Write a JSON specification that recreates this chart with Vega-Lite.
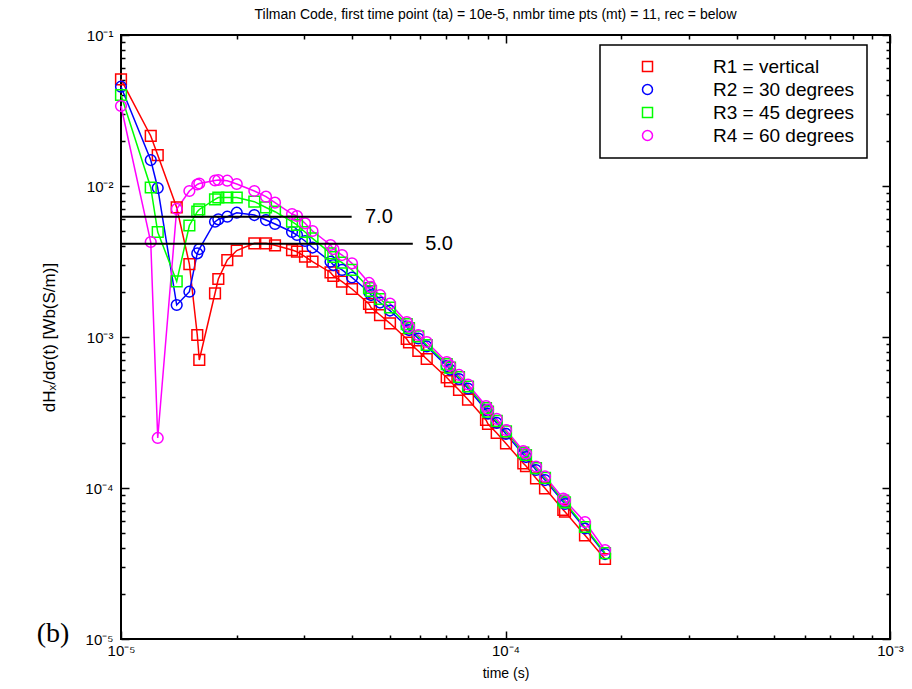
{
"$schema": "https://vega.github.io/schema/vega-lite/v6.json",
"width": 769, "height": 604,
"autosize": "none",
"padding": {"left": 121, "top": 35, "right": 22, "bottom": 50},
"background": "white",
"title": {"text": "Tilman Code, first time point (ta) = 10e-5, nmbr time pts (mt) = 11, rec = below", "fontSize": 14, "font": "Liberation Sans", "fontWeight": "normal", "color": "black", "anchor": "middle", "offset": 6, "dx": -10},
"config": {
  "view": {"stroke": "black", "strokeWidth": 2},
  "font": "Liberation Sans",
  "axis": {"labelFont": "Liberation Sans", "labelFontSize": 15, "labelColor": "black", "titleFont": "Liberation Sans", "titleFontWeight": "normal", "titleColor": "black", "tickColor": "black", "tickWidth": 1.5, "grid": false, "domain": false, "labelFlush": false, "labelOverlap": false},
  "legend": {"padding": 12, "strokeColor": "black", "strokeWidth": 1.5, "fillColor": "white", "symbolOffset": 26, "labelOffset": 56, "labelFontSize": 19, "labelFont": "Liberation Sans", "labelColor": "black", "symbolSize": 100, "symbolStrokeWidth": 1.5, "rowPadding": 3}
},
"data": {"values": [
{"s":"R1 = vertical","t":1e-5,"v":0.05087},{"s":"R1 = vertical","t":1.195e-5,"v":0.02144},{"s":"R1 = vertical","t":1.246e-5,"v":0.01604},{"s":"R1 = vertical","t":1.396e-5,"v":0.007208},{"s":"R1 = vertical","t":1.506e-5,"v":0.003043},{"s":"R1 = vertical","t":1.579e-5,"v":0.001031},{"s":"R1 = vertical","t":1.598e-5,"v":0.0007045},{"s":"R1 = vertical","t":1.756e-5,"v":0.001948},{"s":"R1 = vertical","t":1.791e-5,"v":0.002422},{"s":"R1 = vertical","t":1.89e-5,"v":0.003234},{"s":"R1 = vertical","t":2e-5,"v":0.003739},{"s":"R1 = vertical","t":2.222e-5,"v":0.004174},{"s":"R1 = vertical","t":2.383e-5,"v":0.004174},{"s":"R1 = vertical","t":2.515e-5,"v":0.004048},{"s":"R1 = vertical","t":2.785e-5,"v":0.003767},{"s":"R1 = vertical","t":2.869e-5,"v":0.003671},{"s":"R1 = vertical","t":3.01e-5,"v":0.003401},{"s":"R1 = vertical","t":3.148e-5,"v":0.003152},{"s":"R1 = vertical","t":3.507e-5,"v":0.002675},{"s":"R1 = vertical","t":3.567e-5,"v":0.002536},{"s":"R1 = vertical","t":3.757e-5,"v":0.002325},{"s":"R1 = vertical","t":3.988e-5,"v":0.002079},{"s":"R1 = vertical","t":4.416e-5,"v":0.001654},{"s":"R1 = vertical","t":4.469e-5,"v":0.001568},{"s":"R1 = vertical","t":4.717e-5,"v":0.001398},{"s":"R1 = vertical","t":5.007e-5,"v":0.001232},{"s":"R1 = vertical","t":5.535e-5,"v":0.00097},{"s":"R1 = vertical","t":5.611e-5,"v":0.0009196},{"s":"R1 = vertical","t":5.933e-5,"v":0.0008079},{"s":"R1 = vertical","t":6.239e-5,"v":0.000715},{"s":"R1 = vertical","t":7.032e-5,"v":0.0005393},{"s":"R1 = vertical","t":7.173e-5,"v":0.0005111},{"s":"R1 = vertical","t":7.57e-5,"v":0.0004456},{"s":"R1 = vertical","t":7.989e-5,"v":0.0003854},{"s":"R1 = vertical","t":8.898e-5,"v":0.0002822},{"s":"R1 = vertical","t":9.006e-5,"v":0.0002655},{"s":"R1 = vertical","t":9.487e-5,"v":0.0002314},{"s":"R1 = vertical","t":1.003e-4,"v":0.0001971},{"s":"R1 = vertical","t":1.1125e-4,"v":0.0001458},{"s":"R1 = vertical","t":1.1307e-4,"v":0.0001398},{"s":"R1 = vertical","t":1.2004e-4,"v":0.000116},{"s":"R1 = vertical","t":1.2669e-4,"v":0.00009954},{"s":"R1 = vertical","t":1.4135e-4,"v":0.0000715},{"s":"R1 = vertical","t":1.4279e-4,"v":0.0000697},{"s":"R1 = vertical","t":1.6096e-4,"v":0.0000486},{"s":"R1 = vertical","t":1.8149e-4,"v":0.00003387},
{"s":"R2 = 30 degrees","t":1e-5,"v":0.04546},{"s":"R2 = 30 degrees","t":1.195e-5,"v":0.01486},{"s":"R2 = 30 degrees","t":1.246e-5,"v":0.0097},{"s":"R2 = 30 degrees","t":1.396e-5,"v":0.001629},{"s":"R2 = 30 degrees","t":1.506e-5,"v":0.001995},{"s":"R2 = 30 degrees","t":1.579e-5,"v":0.003582},{"s":"R2 = 30 degrees","t":1.598e-5,"v":0.003825},{"s":"R2 = 30 degrees","t":1.756e-5,"v":0.005801},{"s":"R2 = 30 degrees","t":1.791e-5,"v":0.006017},{"s":"R2 = 30 degrees","t":1.89e-5,"v":0.00626},{"s":"R2 = 30 degrees","t":2e-5,"v":0.006654},{"s":"R2 = 30 degrees","t":2.222e-5,"v":0.006425},{"s":"R2 = 30 degrees","t":2.383e-5,"v":0.005953},{"s":"R2 = 30 degrees","t":2.515e-5,"v":0.005604},{"s":"R2 = 30 degrees","t":2.785e-5,"v":0.004959},{"s":"R2 = 30 degrees","t":2.869e-5,"v":0.004737},{"s":"R2 = 30 degrees","t":3.01e-5,"v":0.004323},{"s":"R2 = 30 degrees","t":3.148e-5,"v":0.003914},{"s":"R2 = 30 degrees","t":3.507e-5,"v":0.003152},{"s":"R2 = 30 degrees","t":3.567e-5,"v":0.002997},{"s":"R2 = 30 degrees","t":3.757e-5,"v":0.002779},{"s":"R2 = 30 degrees","t":3.988e-5,"v":0.002478},{"s":"R2 = 30 degrees","t":4.416e-5,"v":0.001986},{"s":"R2 = 30 degrees","t":4.469e-5,"v":0.001897},{"s":"R2 = 30 degrees","t":4.717e-5,"v":0.001692},{"s":"R2 = 30 degrees","t":5.007e-5,"v":0.001497},{"s":"R2 = 30 degrees","t":5.535e-5,"v":0.001173},{"s":"R2 = 30 degrees","t":5.611e-5,"v":0.001112},{"s":"R2 = 30 degrees","t":5.933e-5,"v":0.0009774},{"s":"R2 = 30 degrees","t":6.239e-5,"v":0.0008653},{"s":"R2 = 30 degrees","t":7.032e-5,"v":0.0006425},{"s":"R2 = 30 degrees","t":7.173e-5,"v":0.0006091},{"s":"R2 = 30 degrees","t":7.57e-5,"v":0.0005271},{"s":"R2 = 30 degrees","t":7.989e-5,"v":0.000456},{"s":"R2 = 30 degrees","t":8.898e-5,"v":0.0003284},{"s":"R2 = 30 degrees","t":9.006e-5,"v":0.0003113},{"s":"R2 = 30 degrees","t":9.487e-5,"v":0.0002695},{"s":"R2 = 30 degrees","t":1.003e-4,"v":0.0002279},{"s":"R2 = 30 degrees","t":1.1125e-4,"v":0.0001666},{"s":"R2 = 30 degrees","t":1.1307e-4,"v":0.0001604},{"s":"R2 = 30 degrees","t":1.2004e-4,"v":0.0001316},{"s":"R2 = 30 degrees","t":1.2669e-4,"v":0.0001129},{"s":"R2 = 30 degrees","t":1.4135e-4,"v":0.00008079},{"s":"R2 = 30 degrees","t":1.4279e-4,"v":0.00007836},{"s":"R2 = 30 degrees","t":1.6096e-4,"v":0.00005393},{"s":"R2 = 30 degrees","t":1.8149e-4,"v":0.00003654},
{"s":"R3 = 45 degrees","t":1e-5,"v":0.04006},{"s":"R3 = 45 degrees","t":1.195e-5,"v":0.009774},{"s":"R3 = 45 degrees","t":1.246e-5,"v":0.004959},{"s":"R3 = 45 degrees","t":1.396e-5,"v":0.002332},{"s":"R3 = 45 degrees","t":1.506e-5,"v":0.005476},{"s":"R3 = 45 degrees","t":1.579e-5,"v":0.006756},{"s":"R3 = 45 degrees","t":1.598e-5,"v":0.006991},{"s":"R3 = 45 degrees","t":1.756e-5,"v":0.008166},{"s":"R3 = 45 degrees","t":1.791e-5,"v":0.008393},{"s":"R3 = 45 degrees","t":1.89e-5,"v":0.008393},{"s":"R3 = 45 degrees","t":2e-5,"v":0.008393},{"s":"R3 = 45 degrees","t":2.222e-5,"v":0.007872},{"s":"R3 = 45 degrees","t":2.383e-5,"v":0.007208},{"s":"R3 = 45 degrees","t":2.515e-5,"v":0.006756},{"s":"R3 = 45 degrees","t":2.785e-5,"v":0.005801},{"s":"R3 = 45 degrees","t":2.869e-5,"v":0.005518},{"s":"R3 = 45 degrees","t":3.01e-5,"v":0.004959},{"s":"R3 = 45 degrees","t":3.148e-5,"v":0.004504},{"s":"R3 = 45 degrees","t":3.507e-5,"v":0.003582},{"s":"R3 = 45 degrees","t":3.567e-5,"v":0.003387},{"s":"R3 = 45 degrees","t":3.757e-5,"v":0.003113},{"s":"R3 = 45 degrees","t":3.988e-5,"v":0.002779},{"s":"R3 = 45 degrees","t":4.416e-5,"v":0.002111},{"s":"R3 = 45 degrees","t":4.469e-5,"v":0.002017},{"s":"R3 = 45 degrees","t":4.717e-5,"v":0.001785},{"s":"R3 = 45 degrees","t":5.007e-5,"v":0.001568},{"s":"R3 = 45 degrees","t":5.535e-5,"v":0.001219},{"s":"R3 = 45 degrees","t":5.611e-5,"v":0.001147},{"s":"R3 = 45 degrees","t":5.933e-5,"v":0.001008},{"s":"R3 = 45 degrees","t":6.239e-5,"v":0.0008853},{"s":"R3 = 45 degrees","t":7.032e-5,"v":0.0006623},{"s":"R3 = 45 degrees","t":7.173e-5,"v":0.0006279},{"s":"R3 = 45 degrees","t":7.57e-5,"v":0.0005434},{"s":"R3 = 45 degrees","t":7.989e-5,"v":0.0004701},{"s":"R3 = 45 degrees","t":8.898e-5,"v":0.0003387},{"s":"R3 = 45 degrees","t":9.006e-5,"v":0.000321},{"s":"R3 = 45 degrees","t":9.487e-5,"v":0.0002779},{"s":"R3 = 45 degrees","t":1.003e-4,"v":0.0002368},{"s":"R3 = 45 degrees","t":1.1125e-4,"v":0.0001718},{"s":"R3 = 45 degrees","t":1.1307e-4,"v":0.0001654},{"s":"R3 = 45 degrees","t":1.2004e-4,"v":0.0001356},{"s":"R3 = 45 degrees","t":1.2669e-4,"v":0.0001165},{"s":"R3 = 45 degrees","t":1.4135e-4,"v":0.00008266},{"s":"R3 = 45 degrees","t":1.4279e-4,"v":0.00008018},{"s":"R3 = 45 degrees","t":1.6096e-4,"v":0.00005518},{"s":"R3 = 45 degrees","t":1.8149e-4,"v":0.0000371},
{"s":"R4 = 60 degrees","t":1e-5,"v":0.03387},{"s":"R4 = 60 degrees","t":1.195e-5,"v":0.004257},{"s":"R4 = 60 degrees","t":1.246e-5,"v":0.0002144},{"s":"R4 = 60 degrees","t":1.396e-5,"v":0.007045},{"s":"R4 = 60 degrees","t":1.506e-5,"v":0.009266},{"s":"R4 = 60 degrees","t":1.579e-5,"v":0.010231},{"s":"R4 = 60 degrees","t":1.598e-5,"v":0.010389},{"s":"R4 = 60 degrees","t":1.756e-5,"v":0.010875},{"s":"R4 = 60 degrees","t":1.791e-5,"v":0.010958},{"s":"R4 = 60 degrees","t":1.89e-5,"v":0.010842},{"s":"R4 = 60 degrees","t":2e-5,"v":0.01031},{"s":"R4 = 60 degrees","t":2.222e-5,"v":0.009266},{"s":"R4 = 60 degrees","t":2.383e-5,"v":0.008496},{"s":"R4 = 60 degrees","t":2.515e-5,"v":0.007753},{"s":"R4 = 60 degrees","t":2.785e-5,"v":0.006524},{"s":"R4 = 60 degrees","t":2.869e-5,"v":0.006328},{"s":"R4 = 60 degrees","t":3.01e-5,"v":0.005664},{"s":"R4 = 60 degrees","t":3.148e-5,"v":0.005035},{"s":"R4 = 60 degrees","t":3.507e-5,"v":0.004067},{"s":"R4 = 60 degrees","t":3.567e-5,"v":0.003825},{"s":"R4 = 60 degrees","t":3.757e-5,"v":0.00349},{"s":"R4 = 60 degrees","t":3.988e-5,"v":0.003076},{"s":"R4 = 60 degrees","t":4.416e-5,"v":0.002279},{"s":"R4 = 60 degrees","t":4.469e-5,"v":0.002144},{"s":"R4 = 60 degrees","t":4.717e-5,"v":0.001897},{"s":"R4 = 60 degrees","t":5.007e-5,"v":0.001666},{"s":"R4 = 60 degrees","t":5.535e-5,"v":0.001257},{"s":"R4 = 60 degrees","t":5.611e-5,"v":0.001173},{"s":"R4 = 60 degrees","t":5.933e-5,"v":0.001031},{"s":"R4 = 60 degrees","t":6.239e-5,"v":0.0009266},{"s":"R4 = 60 degrees","t":7.032e-5,"v":0.0006829},{"s":"R4 = 60 degrees","t":7.173e-5,"v":0.0006474},{"s":"R4 = 60 degrees","t":7.57e-5,"v":0.0005604},{"s":"R4 = 60 degrees","t":7.989e-5,"v":0.0004846},{"s":"R4 = 60 degrees","t":8.898e-5,"v":0.000349},{"s":"R4 = 60 degrees","t":9.006e-5,"v":0.0003309},{"s":"R4 = 60 degrees","t":9.487e-5,"v":0.0002865},{"s":"R4 = 60 degrees","t":1.003e-4,"v":0.0002422},{"s":"R4 = 60 degrees","t":1.1125e-4,"v":0.0001758},{"s":"R4 = 60 degrees","t":1.1307e-4,"v":0.0001692},{"s":"R4 = 60 degrees","t":1.2004e-4,"v":0.0001388},{"s":"R4 = 60 degrees","t":1.2669e-4,"v":0.0001192},{"s":"R4 = 60 degrees","t":1.4135e-4,"v":0.00008521},{"s":"R4 = 60 degrees","t":1.4279e-4,"v":0.00008266},{"s":"R4 = 60 degrees","t":1.6096e-4,"v":0.00005953},{"s":"R4 = 60 degrees","t":1.8149e-4,"v":0.00003884}
]},
"layer": [
  {
    "mark": {"type": "line", "strokeWidth": 1.5},
    "encoding": {
      "x": {"field": "t", "type": "quantitative", "scale": {"type": "log", "domain": [1e-5, 1e-3], "nice": false},
            "axis": {"orient": "bottom", "values": [1e-5, 1e-4, 1e-3], "ticks": false, "labelPadding": 4, "labelExpr": "'10' + ['⁻⁵','⁻⁴','⁻³','⁻²','⁻¹'][round(log(datum.value)/LN10)+5]", "title": "time (s)", "titleFontSize": 14, "titlePadding": 8}},
      "y": {"field": "v", "type": "quantitative", "scale": {"type": "log", "domain": [1e-5, 1e-1], "nice": false},
            "axis": {"orient": "left", "values": [1e-5, 1e-4, 1e-3, 1e-2, 1e-1], "ticks": false, "labelPadding": 8, "labelExpr": "'10' + ['⁻⁵','⁻⁴','⁻³','⁻²','⁻¹'][round(log(datum.value)/LN10)+5]", "title": "dHₓ/dσ(t) [Wb(S/m)]", "titleFontSize": 17, "titlePadding": 26}},
      "color": {"field": "s", "type": "nominal", "scale": {"domain": ["R1 = vertical", "R2 = 30 degrees", "R3 = 45 degrees", "R4 = 60 degrees"], "range": ["#ff0000", "#0000ff", "#00ff00", "#ff00ff"]}, "legend": null}
    }
  },
  {
    "mark": {"type": "point", "filled": false, "strokeWidth": 1.5, "size": 115, "opacity": 1},
    "encoding": {
      "x": {"field": "t", "type": "quantitative", "scale": {"type": "log", "domain": [1e-5, 1e-3], "nice": false}, "axis": null},
      "y": {"field": "v", "type": "quantitative", "scale": {"type": "log", "domain": [1e-5, 1e-1], "nice": false}, "axis": null},
      "color": {"field": "s", "type": "nominal", "scale": {"domain": ["R1 = vertical", "R2 = 30 degrees", "R3 = 45 degrees", "R4 = 60 degrees"], "range": ["#ff0000", "#0000ff", "#00ff00", "#ff00ff"]},
        "legend": {"title": null, "orient": "none", "legendX": 479, "legendY": 10}},
      "shape": {"field": "s", "type": "nominal", "scale": {"domain": ["R1 = vertical", "R2 = 30 degrees", "R3 = 45 degrees", "R4 = 60 degrees"], "range": ["square", "circle", "square", "circle"]},
        "legend": {"title": null, "orient": "none", "legendX": 479, "legendY": 10}}
    }
  },
  {
    "data": {"values": [{"t0": 1e-5, "t1": 3.98e-5, "v": 0.00626, "lab": "7.0", "tl": 4.31e-5}, {"t0": 1e-5, "t1": 5.74e-5, "v": 0.004148, "lab": "5.0", "tl": 6.18e-5}]},
    "layer": [
      {"mark": {"type": "rule", "color": "black", "strokeWidth": 2},
       "encoding": {
         "x": {"field": "t0", "type": "quantitative", "scale": {"type": "log", "domain": [1e-5, 1e-3], "nice": false}, "axis": null},
         "x2": {"field": "t1"},
         "y": {"field": "v", "type": "quantitative", "scale": {"type": "log", "domain": [1e-5, 1e-1], "nice": false}, "axis": null}}},
      {"mark": {"type": "text", "align": "left", "baseline": "middle", "fontSize": 20, "font": "Liberation Sans", "color": "black"},
       "encoding": {
         "x": {"field": "tl", "type": "quantitative", "scale": {"type": "log", "domain": [1e-5, 1e-3], "nice": false}, "axis": null},
         "y": {"field": "v", "type": "quantitative", "scale": {"type": "log", "domain": [1e-5, 1e-1], "nice": false}, "axis": null},
         "text": {"field": "lab"}}}
    ]
  },
  {
    "data": {"values": [{"t": 6.655e-6, "v": 1.079e-5, "lab": "(b)"}]},
    "mark": {"type": "text", "align": "center", "baseline": "middle", "fontSize": 28, "font": "Liberation Serif", "color": "black"},
    "encoding": {
      "x": {"field": "t", "type": "quantitative", "scale": {"type": "log", "domain": [1e-5, 1e-3], "nice": false}, "axis": null},
      "y": {"field": "v", "type": "quantitative", "scale": {"type": "log", "domain": [1e-5, 1e-1], "nice": false}, "axis": null},
      "text": {"field": "lab"}
    }
  },
  {
    "mark": {"type": "point", "opacity": 0},
    "encoding": {
      "x": {"field": "t", "type": "quantitative", "scale": {"type": "log", "domain": [1e-5, 1e-3], "nice": false},
            "axis": {"orient": "bottom", "values": [1e-5, 1e-4, 1e-3], "labels": false, "tickSize": -8, "title": null}},
      "y": {"field": "v", "type": "quantitative", "scale": {"type": "log", "domain": [1e-5, 1e-1], "nice": false},
            "axis": {"orient": "left", "values": [1e-5, 1e-4, 1e-3, 1e-2, 1e-1], "labels": false, "tickSize": -8, "title": null}}
    }
  },
  {
    "mark": {"type": "point", "opacity": 0},
    "encoding": {
      "x": {"field": "t", "type": "quantitative", "scale": {"type": "log", "domain": [1e-5, 1e-3], "nice": false},
            "axis": {"orient": "bottom", "values": [2e-5, 3e-5, 4e-5, 5e-5, 6e-5, 7e-5, 8e-5, 9e-5, 2e-4, 3e-4, 4e-4, 5e-4, 6e-4, 7e-4, 8e-4, 9e-4], "labels": false, "tickSize": -4, "title": null}},
      "y": {"field": "v", "type": "quantitative", "scale": {"type": "log", "domain": [1e-5, 1e-1], "nice": false},
            "axis": {"orient": "left", "values": [2e-5, 3e-5, 4e-5, 5e-5, 6e-5, 7e-5, 8e-5, 9e-5, 2e-4, 3e-4, 4e-4, 5e-4, 6e-4, 7e-4, 8e-4, 9e-4, 2e-3, 3e-3, 4e-3, 5e-3, 6e-3, 7e-3, 8e-3, 9e-3, 2e-2, 3e-2, 4e-2, 5e-2, 6e-2, 7e-2, 8e-2, 9e-2], "labels": false, "tickSize": -4, "title": null}}
    }
  },
  {
    "mark": {"type": "point", "opacity": 0},
    "encoding": {
      "x": {"field": "t", "type": "quantitative", "scale": {"type": "log", "domain": [1e-5, 1e-3], "nice": false},
            "axis": {"orient": "top", "values": [1e-5, 1e-4, 1e-3], "labels": false, "tickSize": -8, "title": null}},
      "y": {"field": "v", "type": "quantitative", "scale": {"type": "log", "domain": [1e-5, 1e-1], "nice": false},
            "axis": {"orient": "right", "values": [1e-5, 1e-4, 1e-3, 1e-2, 1e-1], "labels": false, "tickSize": -8, "title": null}}
    }
  },
  {
    "mark": {"type": "point", "opacity": 0},
    "encoding": {
      "x": {"field": "t", "type": "quantitative", "scale": {"type": "log", "domain": [1e-5, 1e-3], "nice": false},
            "axis": {"orient": "top", "values": [2e-5, 3e-5, 4e-5, 5e-5, 6e-5, 7e-5, 8e-5, 9e-5, 2e-4, 3e-4, 4e-4, 5e-4, 6e-4, 7e-4, 8e-4, 9e-4], "labels": false, "tickSize": -4, "title": null}},
      "y": {"field": "v", "type": "quantitative", "scale": {"type": "log", "domain": [1e-5, 1e-1], "nice": false},
            "axis": {"orient": "right", "values": [2e-5, 3e-5, 4e-5, 5e-5, 6e-5, 7e-5, 8e-5, 9e-5, 2e-4, 3e-4, 4e-4, 5e-4, 6e-4, 7e-4, 8e-4, 9e-4, 2e-3, 3e-3, 4e-3, 5e-3, 6e-3, 7e-3, 8e-3, 9e-3, 2e-2, 3e-2, 4e-2, 5e-2, 6e-2, 7e-2, 8e-2, 9e-2], "labels": false, "tickSize": -4, "title": null}}
    }
  }
],
"resolve": {"axis": {"x": "independent", "y": "independent"}, "legend": {"color": "independent", "shape": "independent"}}
}
